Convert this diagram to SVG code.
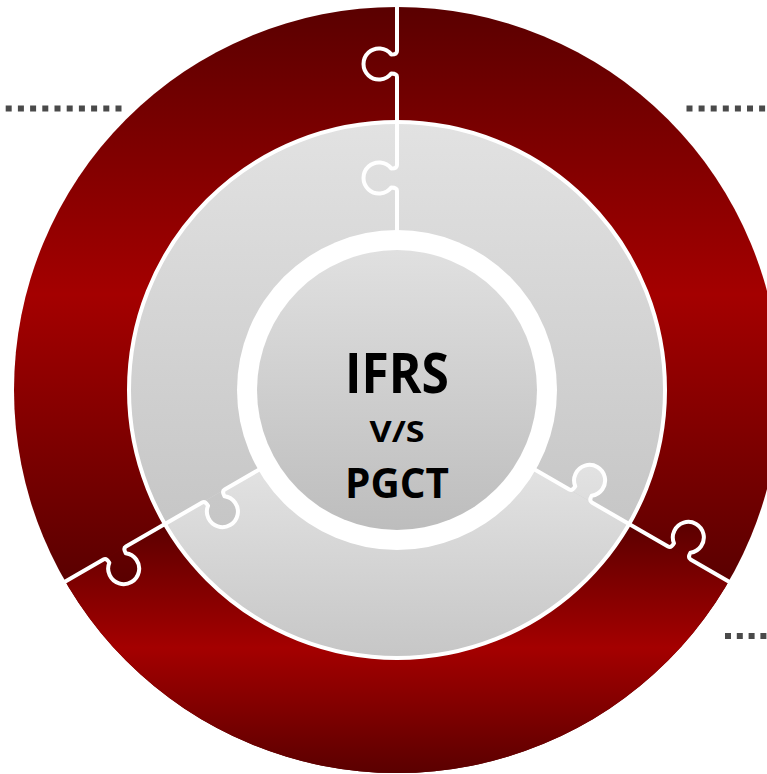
<svg xmlns="http://www.w3.org/2000/svg" width="767" height="774" viewBox="0 0 767 774">
  <style>
    .seam { fill: none; stroke: #ffffff; stroke-width: 4; stroke-linejoin: round; }
    .ring-edge { fill: none; stroke: #ffffff; stroke-width: 4; }
    .dots { stroke: #4a4a4a; stroke-width: 6; fill: none; }
    .lbl { font-family: "Open Sans", "Liberation Sans", sans-serif; font-weight: 700; fill: #000000; text-anchor: middle; }
  </style>
  <defs>
    <linearGradient id="gRedTop" gradientUnits="userSpaceOnUse" x1="0" y1="7" x2="0" y2="582">
      <stop offset="0" stop-color="#5a0000"/>
      <stop offset="0.5" stop-color="#a40000"/>
      <stop offset="1" stop-color="#5a0000"/>
    </linearGradient>
    <linearGradient id="gRedBot" gradientUnits="userSpaceOnUse" x1="0" y1="522" x2="0" y2="774">
      <stop offset="0" stop-color="#5a0000"/>
      <stop offset="0.5" stop-color="#a40000"/>
      <stop offset="1" stop-color="#5a0000"/>
    </linearGradient>
    <linearGradient id="gGrayTop" gradientUnits="userSpaceOnUse" x1="0" y1="122" x2="0" y2="526">
      <stop offset="0" stop-color="#e2e2e2"/>
      <stop offset="1" stop-color="#c6c6c6"/>
    </linearGradient>
    <linearGradient id="gGrayBot" gradientUnits="userSpaceOnUse" x1="0" y1="468" x2="0" y2="660">
      <stop offset="0" stop-color="#e2e2e2"/>
      <stop offset="1" stop-color="#c6c6c6"/>
    </linearGradient>
    <linearGradient id="gInner" x1="0" y1="0" x2="0" y2="1">
      <stop offset="0" stop-color="#e0e0e0"/>
      <stop offset="1" stop-color="#bdbdbd"/>
    </linearGradient>
    <path id="tabOuter" d="M397,77 Q397,73.5 391.25,73.5 A15.5,15.5 0 1 1 391.25,54.5 Q397,54.5 397,51 Z"/>
    <path id="tabMid" d="M397,191 Q397,187.5 391.25,187.5 A15.5,15.5 0 1 1 391.25,168.5 Q397,168.5 397,165 Z"/>
    <path id="seamPath" d="M397,232 L397,191 Q397,187.5 391.25,187.5 A15.5,15.5 0 1 1 391.25,168.5 Q397,168.5 397,165 L397,77 Q397,73.5 391.25,73.5 A15.5,15.5 0 1 1 391.25,54.5 Q397,54.5 397,51 L397,-6"/>
    <clipPath id="cOuterDisc"><circle cx="397" cy="390" r="383"/></clipPath>
    <clipPath id="cMidDisc"><circle cx="397" cy="390" r="268"/></clipPath>
    <clipPath id="cTabO120"><use href="#tabOuter" transform="rotate(120 397 390)"/></clipPath>
    <clipPath id="cTabO240"><use href="#tabOuter" transform="rotate(240 397 390)"/></clipPath>
    <clipPath id="cTabM120"><use href="#tabMid" transform="rotate(120 397 390)"/></clipPath>
    <clipPath id="cTabM240"><use href="#tabMid" transform="rotate(240 397 390)"/></clipPath>
  </defs>

  <g id="outer-ring">
    <circle cx="397" cy="390" r="383" fill="url(#gRedTop)"/>
    <path d="M397,390 L830,640 L830,900 L-36,900 L-36,640 Z" fill="url(#gRedBot)" clip-path="url(#cOuterDisc)"/>
    <rect x="0" y="0" width="767" height="774" fill="url(#gRedBot)" clip-path="url(#cTabO120)"/>
    <rect x="0" y="0" width="767" height="774" fill="url(#gRedTop)" clip-path="url(#cTabO240)"/>
  </g>

  <g id="middle-ring">
    <circle cx="397" cy="390" r="268" fill="url(#gGrayTop)"/>
    <path d="M397,390 L830,640 L830,900 L-36,900 L-36,640 Z" fill="url(#gGrayBot)" clip-path="url(#cMidDisc)"/>
    <rect x="0" y="0" width="767" height="774" fill="url(#gGrayBot)" clip-path="url(#cTabM120)"/>
    <rect x="0" y="0" width="767" height="774" fill="url(#gGrayTop)" clip-path="url(#cTabM240)"/>
    <circle class="ring-edge" cx="397" cy="390" r="268"/>
  </g>

  <g id="seams">
    <use href="#seamPath" class="seam"/>
    <use href="#seamPath" class="seam" transform="rotate(120 397 390)"/>
    <use href="#seamPath" class="seam" transform="rotate(240 397 390)"/>
  </g>

  <g id="center">
    <circle cx="397" cy="390" r="160" fill="#ffffff"/>
    <circle cx="397" cy="390" r="140" fill="url(#gInner)"/>
    <text class="lbl" x="397" y="393" font-size="56" textLength="104" lengthAdjust="spacingAndGlyphs">IFRS</text>
    <text class="lbl" x="397" y="442" font-size="28" textLength="55" lengthAdjust="spacingAndGlyphs">V/S</text>
    <text class="lbl" x="397" y="498" font-size="42" textLength="104" lengthAdjust="spacingAndGlyphs">PGCT</text>
  </g>

  <g id="connectors">
    <line class="dots" x1="121.5" y1="108.5" x2="0" y2="108.5" stroke-dasharray="6 6.2"/>
    <line class="dots" x1="686.5" y1="108.5" x2="767" y2="108.5" stroke-dasharray="6 6.1"/>
    <line class="dots" x1="725" y1="636" x2="767" y2="636" stroke-dasharray="6 5.8"/>
  </g>
</svg>
